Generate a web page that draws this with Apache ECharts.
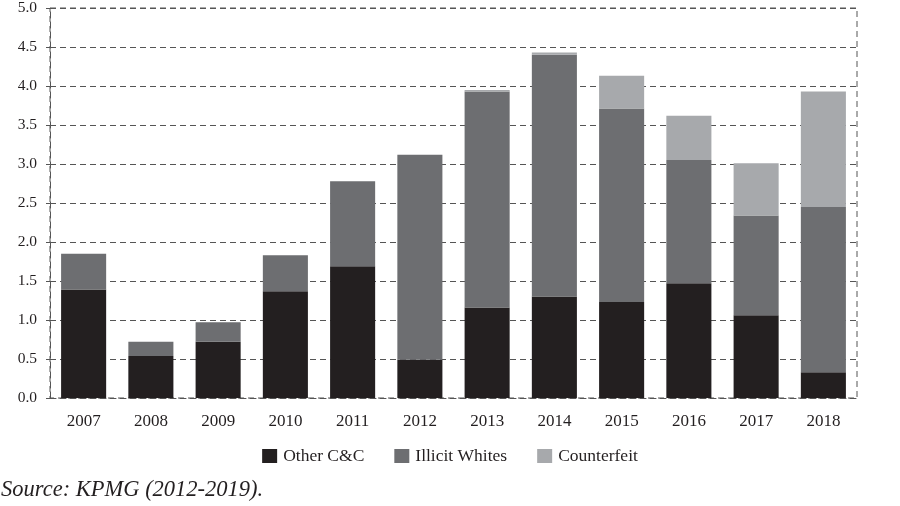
<!DOCTYPE html>
<html>
<head>
<meta charset="utf-8">
<script src="https://cdn.jsdelivr.net/npm/echarts@6/dist/echarts.min.js"></script>
<style>
html,body{margin:0;padding:0;background:#fff;}
#chart{width:900px;height:506px;}
</style>
</head>
<body>
<div id="chart"></div>
<script>
const years = ['2007','2008','2009','2010','2011','2012','2013','2014','2015','2016','2017','2018'];
const otherCC = [1.39,0.54,0.72,1.37,1.69,0.49,1.16,1.30,1.23,1.47,1.06,0.33];
const illicitWhites = [0.46,0.18,0.25,0.46,1.09,2.63,2.77,3.10,2.48,1.58,1.28,2.12];
const counterfeit = [0,0,0,0,0,0,0.02,0.03,0.42,0.57,0.67,1.48];
const yTicks = [0,0.5,1.0,1.5,2.0,2.5,3.0,3.5,4.0,4.5,5.0];

const font = '"Liberation Serif", "Times New Roman", serif';
const dash = [6, 4];
const chart = echarts.init(document.getElementById('chart'));
chart.setOption({
  animation: false,
  backgroundColor: '#fff',
  grid: {left: 50, right: 43, top: 8, bottom: 108, show: true, borderColor: '#555', borderWidth: 1, borderType: dash},
  legend: {
    top: 442, left: 'center',
    itemWidth: 15, itemHeight: 14, itemGap: 30,
    icon: 'rect',
    textStyle: {fontFamily: font, fontSize: 17.5, color: '#231f20', padding: [0, 0, 0, 1]},
    data: ['Other C&C','Illicit Whites','Counterfeit']
  },
  xAxis: {
    type: 'category', data: years,
    axisLine: {show: true, lineStyle: {color: '#555', type: dash}},
    axisTick: {show: false},
    axisLabel: {fontFamily: font, fontSize: 17, color: '#231f20', margin: 15}
  },
  yAxis: {
    type: 'value', min: 0, max: 5, interval: 0.5,
    axisLine: {show: true, lineStyle: {color: '#555', type: dash}},
    axisTick: {show: true, length: 4, lineStyle: {color: '#555'}},
    splitLine: {show: true, lineStyle: {color: '#555', type: dash}},
    axisLabel: {fontFamily: font, fontSize: 15.5, color: '#231f20', margin: 13,
      formatter: v => { const t = yTicks.find(x => Math.abs(x - v) < 1e-9); return (t === undefined ? v : t).toFixed(1); }}
  },
  series: [
    {name: 'Other C&C', type: 'bar', stack: 's', data: otherCC, barWidth: '67%', itemStyle: {color: '#231f20'}},
    {name: 'Illicit Whites', type: 'bar', stack: 's', data: illicitWhites, itemStyle: {color: '#6d6e71'}},
    {name: 'Counterfeit', type: 'bar', stack: 's', data: counterfeit, itemStyle: {color: '#a7a9ac'}}
  ],
  graphic: [{
    type: 'text', left: 1, top: 479,
    style: {text: 'Source: KPMG (2012-2019).', font: 'italic 22.5px "Liberation Serif", "Times New Roman", serif', fill: '#231f20'}
  }]
});
</script>
</body>
</html>
